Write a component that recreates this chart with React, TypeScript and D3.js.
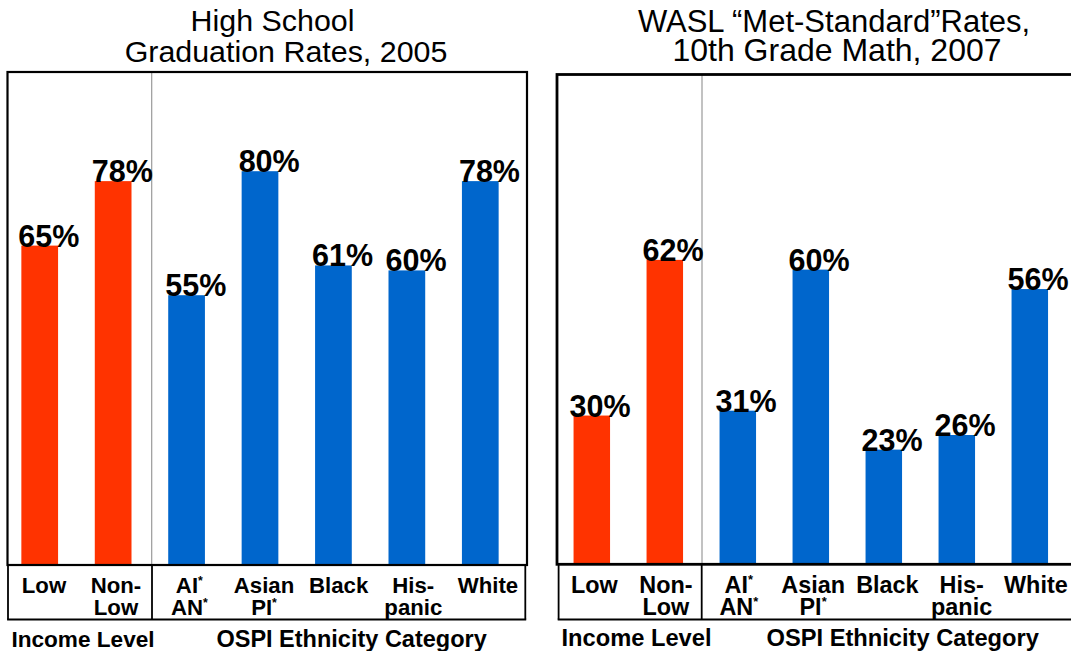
import React from "react";
import * as d3 from "d3";

// ---------- data ----------
const categories = ["Low", "Non-Low", "AI/AN", "Asian/PI", "Black", "Hispanic", "White"];
const categoryLabelLines = [["Low"], ["Non-", "Low"], ["AI*", "AN*"], ["Asian", "PI*"], ["Black"], ["His-", "panic"], ["White"]];
const categoryGroup = ["income", "income", "ethnicity", "ethnicity", "ethnicity", "ethnicity", "ethnicity"];
const groupNames = ["Income Level", "OSPI Ethnicity Category"];
const graduationRates2005 = [65, 78, 55, 80, 61, 60, 78];
const waslMathRates2007 = [30, 62, 31, 60, 23, 26, 56];
const titleGraduation = ["High School", "Graduation Rates, 2005"];
const titleWasl = ["WASL \u201cMet-Standard\u201dRates,", "10th Grade Math, 2007"];

const COLORS: Record<string, string> = { income: "#FF3300", ethnicity: "#0066CC" };
const FONT = "'Liberation Sans', Arial, Helvetica, sans-serif";

type PanelCfg = {
  values: number[];
  title: string[];
  titleX: number[];
  titleY: number[];
  titleSize: number[];
  boxX0: number;
  boxX1: number;
  boxTop: number;
  boxBottom: number;
  boxStroke: number;
  dividerX: number;
  barRange: [number, number];
  yZero: number;
  yHundred: number;
  labelX0: number;
  labelDiv: number;
  labelX1: number;
  labelBottom: number;
  valueSize: number;
  valueShift: number;
  catSize: number;
  groupX: number[];
  groupSize: number[];
  groupY: number;
};

function LabelLine({ text, x, y, size }: { text: string; x: number; y: number; size: number }) {
  const star = text.endsWith("*");
  const main = star ? text.slice(0, -1) : text;
  return (
    <text x={x} y={y} textAnchor="middle" fontFamily={FONT} fontWeight="bold" fontSize={size} fill="#000">
      {main}
      {star && (
        <tspan fontSize={size * 0.55} dy={-size * 0.38}>
          *
        </tspan>
      )}
    </text>
  );
}

function Panel({ cfg }: { cfg: PanelCfg }) {
  const x = d3.scaleBand<string>().domain(categories).range(cfg.barRange).paddingInner(0.5).paddingOuter(0.25);
  const y = d3.scaleLinear().domain([0, 100]).range([cfg.yZero, cfg.yHundred]);
  const incomeCats = categories.filter((_, i) => categoryGroup[i] === "income");
  const ethCats = categories.filter((_, i) => categoryGroup[i] === "ethnicity");
  const incomeBand = d3.scaleBand<string>().domain(incomeCats).range([cfg.labelX0, cfg.labelDiv]);
  const ethBand = d3.scaleBand<string>().domain(ethCats).range([cfg.labelDiv, cfg.labelX1]);
  const labelCenter = (c: string, i: number) =>
    categoryGroup[i] === "income"
      ? (incomeBand(c) as number) + incomeBand.bandwidth() / 2
      : (ethBand(c) as number) + ethBand.bandwidth() / 2;

  return (
    <g>
      {cfg.title.map((t, i) => (
        <text key={i} x={cfg.titleX[i]} y={cfg.titleY[i]} textAnchor="middle" fontFamily={FONT} fontSize={cfg.titleSize[i]} fill="#000">
          {t}
        </text>
      ))}
      {/* bars */}
      {categories.map((c, i) => {
        const top = y(cfg.values[i]);
        return (
          <rect
            key={c}
            x={x(c)}
            y={top}
            width={x.bandwidth()}
            height={cfg.boxBottom - top}
            fill={COLORS[categoryGroup[i]]}
          />
        );
      })}
      {/* divider inside plot */}
      <line x1={cfg.dividerX} x2={cfg.dividerX} y1={cfg.boxTop} y2={cfg.boxBottom} stroke="#999" strokeWidth={1.2} />
      {/* plot box */}
      <rect
        x={cfg.boxX0}
        y={cfg.boxTop}
        width={cfg.boxX1 - cfg.boxX0}
        height={cfg.boxBottom - cfg.boxTop}
        fill="none"
        stroke="#000"
        strokeWidth={cfg.boxStroke}
      />
      {/* value labels */}
      {categories.map((c, i) => (
        <text
          key={c}
          x={(x(c) as number) + cfg.valueShift}
          y={y(cfg.values[i]) + 1}
          fontFamily={FONT}
          fontWeight="bold"
          fontSize={cfg.valueSize}
          fill="#000"
        >
          {`${cfg.values[i]}%`}
        </text>
      ))}
      {/* label box */}
      <g stroke="#000" strokeWidth={1.8}>
        <line x1={cfg.labelX0} x2={cfg.labelX0} y1={cfg.boxBottom} y2={cfg.labelBottom} />
        <line x1={cfg.labelDiv} x2={cfg.labelDiv} y1={cfg.boxBottom} y2={cfg.labelBottom} />
        <line x1={cfg.labelX1} x2={cfg.labelX1} y1={cfg.boxBottom} y2={cfg.labelBottom} />
        <line x1={cfg.labelX0 - 0.9} x2={cfg.labelX1 + 0.9} y1={cfg.labelBottom} y2={cfg.labelBottom} />
      </g>
      {categories.map((c, i) =>
        categoryLabelLines[i].map((ln, j) => (
          <LabelLine key={c + j} text={ln} x={labelCenter(c, i)} y={593 + j * 22} size={cfg.catSize} />
        ))
      )}
      {groupNames.map((g, i) => (
        <text key={g} x={cfg.groupX[i]} y={cfg.groupY} textAnchor="middle" fontFamily={FONT} fontWeight="bold" fontSize={cfg.groupSize[i]} fill="#000">
          {g}
        </text>
      ))}
    </g>
  );
}

const leftCfg: PanelCfg = {
  values: graduationRates2005,
  title: titleGraduation,
  titleX: [272.5, 286],
  titleY: [30.5, 61.5],
  titleSize: [30.4, 30.4],
  boxX0: 7.5,
  boxX1: 527,
  boxTop: 72,
  boxBottom: 565,
  boxStroke: 2.2,
  dividerX: 151.7,
  barRange: [3, 517],
  yZero: 568,
  yHundred: 72,
  labelX0: 8,
  labelDiv: 152,
  labelX1: 525.3,
  labelBottom: 619.5,
  valueSize: 30.5,
  valueShift: -3,
  catSize: 22.2,
  groupX: [83, 351.6],
  groupSize: [22.6, 23.5],
  groupY: 647,
};

const rightCfg: PanelCfg = {
  values: waslMathRates2007,
  title: titleWasl,
  titleX: [834, 837],
  titleY: [32, 60.5],
  titleSize: [31, 32],
  boxX0: 557,
  boxX1: 1085,
  boxTop: 74.5,
  boxBottom: 564.3,
  boxStroke: 2.8,
  dividerX: 702,
  barRange: [555.3, 1066.3],
  yZero: 561.5,
  yHundred: 75,
  labelX0: 558.6,
  labelDiv: 701.7,
  labelX1: 1073,
  labelBottom: 619.5,
  valueSize: 30.5,
  valueShift: -4,
  catSize: 23.4,
  groupX: [636.5, 902.7],
  groupSize: [23.7, 23.7],
  groupY: 645.5,
};

export default function App() {
  return (
    <svg
      width={1071}
      height={651}
      viewBox="0 0 1071 651"
      style={{ position: "absolute", left: 0, top: 0, background: "#fff" }}
    >
      <rect x={0} y={0} width={1071} height={651} fill="#fff" />
      <Panel cfg={leftCfg} />
      <Panel cfg={rightCfg} />
    </svg>
  );
}
